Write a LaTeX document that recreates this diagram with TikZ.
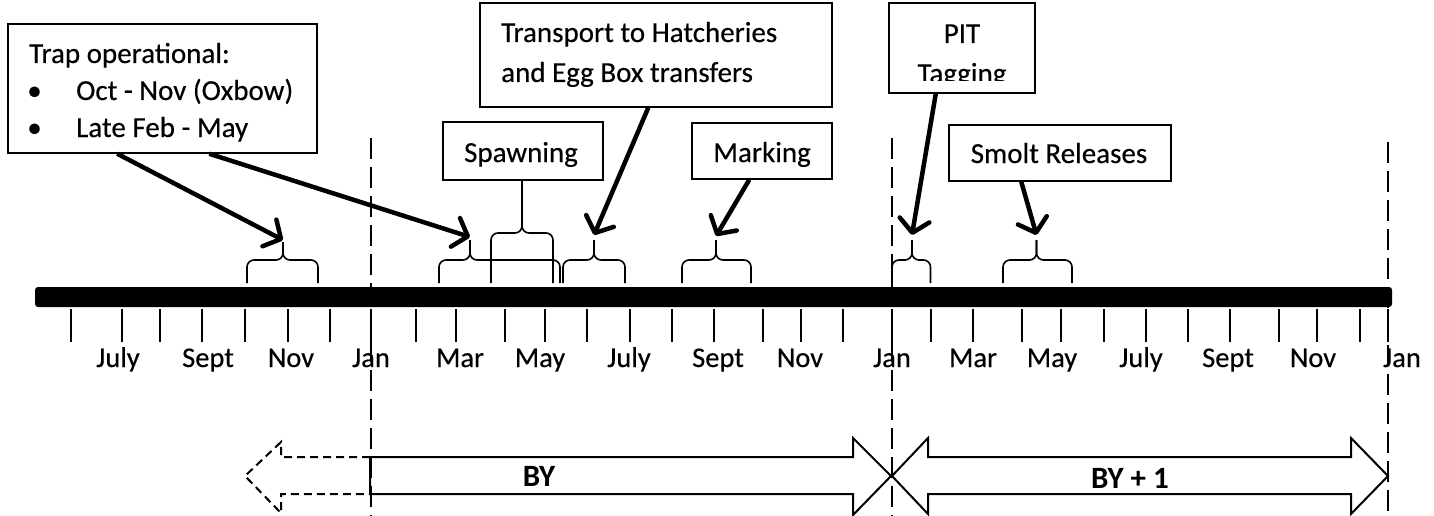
\documentclass[tikz,border=0pt]{standalone}
\usepackage{fontspec}
\setmainfont{Carlito}[UprightFeatures={FakeBold=0.4}]
\usetikzlibrary{arrows.meta}
\newcommand{\tlbrace}[6]{%
  \draw[bracestyle] (#1,#6) -- (#1,#4) -- (#2,#4) -- (#2,#5);
  \draw[bracestyle] (#3,#6) -- (#3,#4) -- (#2,#4) -- (#2,#5);}
\begin{document}
\begin{tikzpicture}[x=1pt,y=-1pt,
  box/.style={draw, line width=1.5pt, inner sep=0pt},
  txt/.style={font=\fontsize{29}{35}\selectfont, inner sep=0pt},
  mon/.style={font=\fontsize{28.5}{34}\selectfont, inner sep=0pt, anchor=base},
  bold/.style={font=\fontsize{31}{37}\selectfont\bfseries, inner sep=0pt, anchor=base},
  callout/.style={line width=4.5pt, -{Straight Barb[length=13pt,width=30pt,round]}},
  bracestyle/.style={line width=1.6pt, rounded corners=7pt},
  yearline/.style={line width=2.8pt, dash pattern=on 21pt off 8pt},
  tick/.style={line width=1.8pt},
  blockarrow/.style={line width=2pt, line join=miter},
  pastarrow/.style={line width=2pt, dash pattern=on 8pt off 5pt}]
\useasboundingbox (0,0) rectangle (1434,516);

% year boundaries
\draw[yearline] (371,138) -- (371,516);
\draw[yearline] (892,138) -- (892,516);
\draw[yearline] (1388,142) -- (1388,516);

% time bar
\fill[rounded corners=3pt] (35,287) rectangle (1392,307);
\foreach \x in {71,122,160,202,245,288,330,371,416,456,505,545,587,630,672,714,763,801,843,892,931,973,1022,1061,1104,1146,1188,1230,1279,1317,1360,1388}
  \draw[tick] (\x,309) -- (\x,342);

% month labels
\foreach \x/\m [count=\i] in {118/July,208/Sept,291/Nov,371/Jan,460/Mar,540/May,629/July,718/Sept,800/Nov,892/Jan,973/Mar,1052/May,1141/July,1228/Sept,1313/Nov,1402/Jan}
  \node[mon] (m\i) at (\x,367) {\m};

% boxes
\node[box, minimum width=309pt, minimum height=129pt] (trap) at (162.5,88.5) {};
\node[txt, anchor=base west] (trapt) at (29,63) {Trap operational:};
\node[txt, anchor=base] (b1) at (34.5,100) {•};
\node[txt, anchor=base west] (trap1) at (76,100) {Oct - Nov (Oxbow)};
\node[txt, anchor=base] (b2) at (34.5,137) {•};
\node[txt, anchor=base west] (trap2) at (76,137) {Late Feb - May};

\node[box, minimum width=352pt, minimum height=104pt] (trans) at (656,55) {};
\node[txt, anchor=base west] (trans1) at (501,42) {Transport to Hatcheries};
\node[txt, anchor=base west] (trans2) at (501,82) {and Egg Box transfers};

\node[box, minimum width=160pt, minimum height=58pt] (spawn) at (523,151) {};
\node[txt, anchor=base] (spawnt) at (521,162) {Spawning};

\node[box, minimum width=140pt, minimum height=56pt] (mark) at (762,151) {};
\node[txt, anchor=base] (markt) at (762,162) {Marking};

\node[box, minimum width=146pt, minimum height=90pt] (pit) at (962,48) {};
\node[txt, anchor=base] (pit1) at (962,43) {PIT};
\begin{scope}
  \clip (890,50) rectangle (1034,81);
  \node[txt, anchor=base] (pit2) at (962,83) {Tagging};
\end{scope}

\node[box, minimum width=222pt, minimum height=56pt] (smolt) at (1060,153) {};
\node[txt, anchor=base] (smoltt) at (1059,163) {Smolt Releases};

% braces
\tlbrace{247}{283}{318}{260}{242}{283}
\tlbrace{439}{470}{560}{260}{240}{283}
\tlbrace{491}{522}{553}{233}{181}{283}
\tlbrace{563}{594}{625}{260}{240}{283}
\tlbrace{682}{716}{751}{260}{240}{283}
\tlbrace{892}{912}{930.5}{260}{240}{283}
\tlbrace{1003}{1036.5}{1072}{260}{240}{283}

\coordinate (tipOxbow) at (283,240);
\coordinate (tipFeb) at (470,237);
\coordinate (tipTrans) at (594,235);
\coordinate (tipMark) at (716,236);
\coordinate (tipPit) at (912,235);
\coordinate (tipSmolt) at (1036.5,235);

% callout arrows
\draw[callout] ([xshift=110pt]trap.south west) -- (tipOxbow);
\draw[callout] ([xshift=202pt]trap.south west) -- (tipFeb);
\draw[callout] ([xshift=169pt]trans.south west) -- (tipTrans);
\draw[callout] ([xshift=58pt]mark.south west) -- (tipMark);
\draw[callout] ([xshift=47.5pt]pit.south west) -- (tipPit);
\draw[callout] ([xshift=73pt]smolt.south west) -- (tipSmolt);

% brood year arrows
\draw[pastarrow] (370,457) -- (281,457) -- (281,442) -- (245,476) -- (281,513) -- (281,494) -- (370,494);
\draw[blockarrow] (370,457) -- (853,457) -- (853,438) -- (891,476) -- (853,515) -- (853,494) -- (370,494) -- cycle;
\node[bold] (by) at (539,486) {BY};
\draw[blockarrow] (892,476) -- (928,438) -- (928,457) -- (1351,457) -- (1351,438) -- (1388,476) -- (1351,514) -- (1351,494) -- (928,494) -- (928,514) -- cycle;
\node[bold] (by1) at (1130,488) {BY + 1};
\end{tikzpicture}
\end{document}
